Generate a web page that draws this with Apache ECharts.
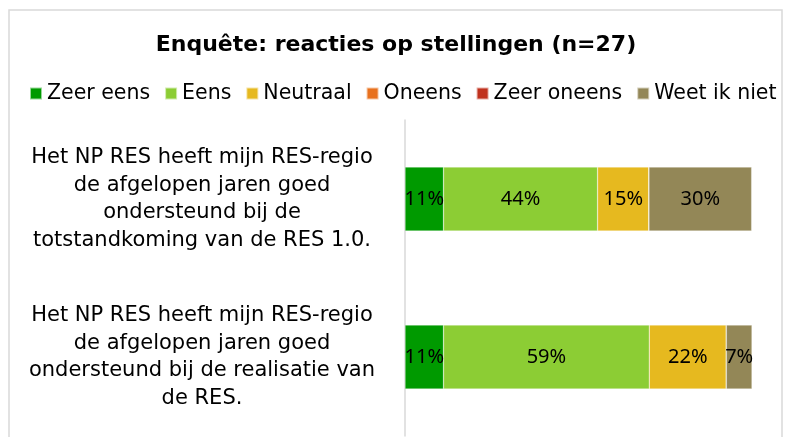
<!DOCTYPE html>
<html>
<head>
<meta charset="utf-8">
<script src="https://cdn.jsdelivr.net/npm/echarts@6/dist/echarts.min.js"></script>
<style>
html,body{margin:0;padding:0;background:#fff;}
#chart{width:792px;height:437px;}
</style>
</head>
<body>
<div id="chart"></div>
<script>
const titleText = 'Enquête: reacties op stellingen (n=27)';
const categories = [
  'Het NP RES heeft mijn RES-regio\nde afgelopen jaren goed\nondersteund bij de\ntotstandkoming van de RES 1.0.',
  'Het NP RES heeft mijn RES-regio\nde afgelopen jaren goed\nondersteund bij de realisatie van\nde RES.'
];
const seriesNames = ['Zeer eens', 'Eens', 'Neutraal', 'Oneens', 'Zeer oneens', 'Weet ik niet'];
const seriesColors = ['#009A00', '#8CCD34', '#E6B91F', '#E8711E', '#C0321E', '#938757'];
const zeerEens = [11.1, 11.1];
const eens = [44.4, 59.3];
const neutraal = [14.8, 22.2];
const oneens = [0, 0];
const zeerOneens = [0, 0];
const weetIkNiet = [29.6, 7.4];
const seriesValues = [zeerEens, eens, neutraal, oneens, zeerOneens, weetIkNiet];

const FONT = '"DejaVu Sans", sans-serif';
const chart = echarts.init(document.getElementById('chart'));
chart.setOption({
  animation: false,
  backgroundColor: '#fff',
  graphic: [{
    type: 'rect', shape: {x: 9, y: 10, width: 773, height: 440},
    style: {fill: 'none', stroke: '#d9d9d9', lineWidth: 1.5}, z: -1
  }],
  title: {
    text: titleText, left: 'center', top: 29,
    textStyle: {fontFamily: FONT, fontWeight: 'bold', fontSize: 22, color: '#000'}
  },
  legend: {
    data: seriesNames, left: 24, top: 78,
    itemWidth: 12, itemHeight: 12, itemGap: 14, icon: 'rect',
    textStyle: {fontFamily: FONT, fontSize: 20.5, color: '#000'}
  },
  grid: {left: 405, right: 40, top: 120, bottom: 1, containLabel: false},
  xAxis: {
    type: 'value', min: 0, max: 100,
    show: false, splitLine: {show: false}
  },
  yAxis: {
    type: 'category', data: categories, inverse: true,
    axisLine: {show: true, lineStyle: {color: '#d9d9d9', width: 1.5}},
    axisTick: {show: false},
    axisLabel: {
      fontFamily: FONT, fontSize: 21, color: '#000', align: 'center',
      margin: 203, lineHeight: 27.5
    }
  },
  series: seriesNames.map((name, i) => ({
    name: name, type: 'bar', stack: 'total', barWidth: 64,
    data: seriesValues[i],
    itemStyle: {color: seriesColors[i], borderColor: 'rgba(255,255,255,0.6)', borderWidth: 0.5},
    label: {
      show: true, position: 'inside', color: '#000',
      fontFamily: '"Noto Sans", sans-serif', fontSize: 20,
      formatter: p => p.value > 0 ? Math.round(p.value) + '%' : ''
    }
  }))
});
</script>
</body>
</html>
